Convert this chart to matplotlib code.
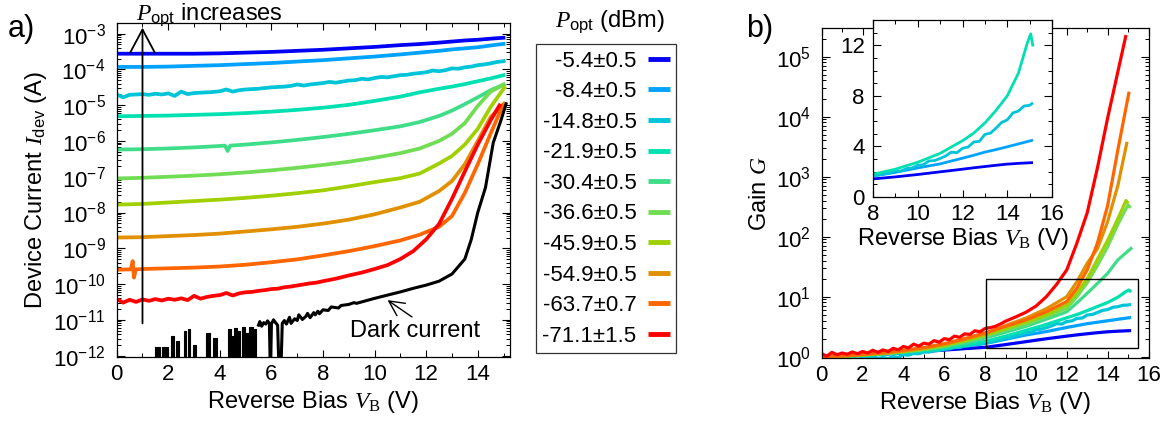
import numpy as np
import matplotlib
matplotlib.use("Agg")
import matplotlib.pyplot as plt
from matplotlib.ticker import MultipleLocator, LogLocator, NullFormatter, FixedLocator
from matplotlib.patches import Rectangle

# ---------------------------------------------------------------- data
LEGEND_LABELS = ["-5.4±0.5", "-8.4±0.5", "-14.8±0.5", "-21.9±0.5", "-30.4±0.5",
                 "-36.6±0.5", "-45.9±0.5", "-54.9±0.5", "-63.7±0.7", "-71.1±1.5"]
COLORS = ["#0000f5", "#00a2ff", "#00c4d8", "#00e0b0", "#40dd88",
          "#70dd55", "#a0d000", "#e09000", "#ff6600", "#ff0000"]

# (a) device current, log10(I / A) versus reverse bias (V)
V_A = [0, 1, 2, 3, 4, 5, 6, 7, 8, 9, 10, 11, 11.75, 12.5, 13, 13.5, 14, 14.5, 15.07]
LOGI_5P4 = [-3.56, -3.56, -3.56, -3.56, -3.55, -3.53, -3.51, -3.48, -3.45, -3.41,
            -3.37, -3.32, -3.29, -3.25, -3.22, -3.19, -3.17, -3.14, -3.11]
LOGI_8P4 = [-3.93, -3.93, -3.92, -3.90, -3.88, -3.85, -3.82, -3.78, -3.74, -3.69,
            -3.64, -3.58, -3.53, -3.48, -3.44, -3.41, -3.38, -3.33, -3.28]
V_A_14P8 = [0.00, 0.25, 0.50, 0.75, 1.00, 1.25, 1.50, 1.75, 2.00, 2.25, 2.50, 2.75,
            3.00, 3.25, 3.50, 3.75, 4.00, 4.25, 4.50, 4.75, 5.00, 5.25, 5.50, 5.75,
            6.00, 6.25, 6.50, 6.75, 7.00, 7.25, 7.50, 7.75, 8.00, 8.25, 8.50, 8.75,
            9.00, 9.25, 9.50, 9.75, 10.00, 10.25, 10.50, 10.75, 11.00, 11.25, 11.50,
            11.75, 12.00, 12.25, 12.50, 12.75, 13.00, 13.25, 13.50, 13.75, 14.00,
            14.25, 14.50, 14.75, 15.00, 15.07]
LOGI_14P8 = [-4.70, -4.78, -4.71, -4.70, -4.69, -4.71, -4.68, -4.70, -4.67, -4.74,
             -4.62, -4.69, -4.66, -4.65, -4.64, -4.63, -4.61, -4.56, -4.62, -4.58,
             -4.56, -4.55, -4.54, -4.52, -4.50, -4.49, -4.48, -4.46, -4.42, -4.45,
             -4.42, -4.40, -4.38, -4.35, -4.37, -4.34, -4.31, -4.30, -4.26, -4.28,
             -4.24, -4.21, -4.22, -4.19, -4.16, -4.15, -4.12, -4.10, -4.08, -4.03,
             -4.05, -4.02, -3.97, -3.98, -3.94, -3.92, -3.88, -3.86, -3.83, -3.79,
             -3.77, -3.75]
LOGI_21P9 = [-5.31, -5.30, -5.29, -5.27, -5.25, -5.22, -5.18, -5.13, -5.07, -4.99,
             -4.88, -4.76, -4.64, -4.54, -4.48, -4.41, -4.33, -4.25, -4.15]
V_A_30P4 = [0, 1, 2, 3, 4, 4.2, 4.3, 4.4, 5, 6, 7, 8, 9, 10, 11, 11.75, 12.5, 13,
            13.5, 14, 14.5, 15.07]
LOGI_30P4 = [-6.24, -6.23, -6.21, -6.18, -6.14, -6.13, -6.28, -6.13, -6.10, -6.04,
             -5.97, -5.89, -5.80, -5.70, -5.59, -5.47, -5.30, -5.15, -4.97, -4.78,
             -4.58, -4.40]
LOGI_36P6 = [-7.05, -7.03, -7.00, -6.97, -6.93, -6.88, -6.82, -6.75, -6.67, -6.58,
             -6.47, -6.34, -6.21, -6.00, -5.80, -5.50, -5.02, -4.62, -4.40]
LOGI_45P9 = [-7.78, -7.76, -7.72, -7.68, -7.64, -7.59, -7.53, -7.46, -7.38, -7.27,
             -7.15, -7.04, -6.91, -6.63, -6.42, -6.10, -5.66, -5.05, -4.47]
LOGI_54P9 = [-8.70, -8.69, -8.66, -8.63, -8.59, -8.53, -8.47, -8.40, -8.31, -8.20,
             -8.05, -7.86, -7.70, -7.40, -7.12, -6.65, -6.00, -5.33, -4.92]
V_A_63P7 = [0, 0.55, 0.62, 0.67, 0.74, 1, 2, 3, 4, 5, 6, 7, 8, 9, 10, 11, 11.75,
            12.5, 13, 13.5, 14, 14.5, 15.0]
LOGI_63P7 = [-9.60, -9.59, -9.36, -9.82, -9.59, -9.58, -9.56, -9.54, -9.51, -9.46,
             -9.39, -9.31, -9.20, -9.08, -8.94, -8.78, -8.62, -8.40, -8.10, -7.45,
             -6.65, -5.79, -4.96]
V_A_71P1 = [0.00, 0.25, 0.50, 0.75, 1.00, 1.25, 1.50, 1.75, 2.00, 2.25, 2.50, 2.75,
            3.00, 3.25, 3.50, 3.75, 4.00, 4.25, 4.50, 4.75, 5.00, 5.25, 5.50, 5.75,
            6.00, 6.25, 6.50, 6.75, 7.00, 7.25, 7.50, 7.75, 8.00, 8.5, 9, 9.5, 10,
            10.5, 11, 11.5, 12, 12.5, 13, 13.5, 14, 14.5, 14.88]
LOGI_71P1 = [-10.42, -10.52, -10.44, -10.50, -10.43, -10.47, -10.42, -10.46, -10.41,
             -10.44, -10.40, -10.45, -10.33, -10.41, -10.36, -10.33, -10.31, -10.25,
             -10.32, -10.26, -10.23, -10.22, -10.19, -10.17, -10.14, -10.13, -10.09,
             -10.07, -10.04, -10.01, -9.98, -9.96, -9.92, -9.85, -9.76, -9.68, -9.58,
             -9.47, -9.30, -9.08, -8.75, -8.32, -7.62, -6.85, -6.10, -5.42, -4.96]

# dark current: noise bursts near the instrument floor (start V, end V, log10 I)
DARK_BURST_START = [1.48, 1.74, 2.12, 2.28, 2.62, 2.76, 2.95, 3.48, 3.72, 4.30, 4.46,
                    4.56, 4.72, 4.84, 5.00, 5.14, 5.32]
DARK_BURST_END = [1.66, 1.99, 2.22, 2.42, 2.70, 2.86, 3.08, 3.60, 3.90, 4.42, 4.52,
                  4.68, 4.80, 4.96, 5.10, 5.28, 5.42]
DARK_BURST_LOGI = [-11.75, -11.75, -11.45, -11.58, -11.30, -11.27, -11.70, -11.38,
                   -11.50, -11.26, -11.45, -11.24, -11.32, -11.20, -11.38, -11.20, -11.26]
DARK_FLOOR_LOGI = -12.6
V_DARK = [5.50, 5.55, 5.62, 5.70, 5.78, 5.85, 5.92, 5.96, 6.00, 6.08, 6.16, 6.24, 6.30,
          6.36, 6.42, 6.50, 6.58, 6.70, 6.76, 6.90, 7.00, 7.06, 7.20, 7.34, 7.40, 7.50,
          7.64, 7.70, 7.80, 7.86, 8.00, 8.20, 8.32, 8.60, 8.70, 9.00, 9.20, 9.30, 9.60,
          10.0, 10.5, 11.0, 11.5, 12.0, 12.5, 13.0, 13.5, 13.75, 14.0, 14.3, 14.6,
          14.9, 15.1]
LOGI_DARK = [-11.15, -11.05, -11.18, -11.08, -11.12, -11.03, -11.10, -12.6, -11.12,
             -11.00, -11.08, -11.15, -12.6, -12.6, -11.10, -11.02, -11.12, -10.93,
             -11.10, -10.97, -11.02, -10.86, -10.99, -10.90, -10.82, -10.94, -10.80,
             -10.86, -10.76, -10.83, -10.72, -10.74, -10.64, -10.67, -10.60, -10.57,
             -10.52, -10.54, -10.48, -10.40, -10.31, -10.22, -10.12, -10.03, -9.92,
             -9.72, -9.30, -8.75, -8.00, -7.30, -6.05, -5.42, -4.96]

# (b) gain versus reverse bias
V_B = [0, 1, 2, 3, 4, 5, 6, 7, 8, 9, 10, 11, 12, 12.5, 13, 13.5, 14, 14.5, 15.15]
G_5P4 = [1.0, 1.02, 1.06, 1.10, 1.15, 1.22, 1.29, 1.36, 1.43, 1.59, 1.78, 1.99, 2.20,
         2.31, 2.41, 2.51, 2.60, 2.66, 2.72]
G_8P4 = [1.0, 1.02, 1.07, 1.13, 1.20, 1.30, 1.40, 1.52, 1.66, 1.95, 2.30, 2.62, 3.07,
         3.30, 3.55, 3.75, 3.97, 4.20, 4.50]
V_B_14P8 = V_A_14P8[:-1] + [15.15]
G_14P8 = [1.00, 1.03, 0.98, 1.02, 0.99, 1.04, 0.99, 1.03, 1.00, 0.96, 1.02, 0.94,
          0.97, 0.93, 1.01, 0.97, 1.08, 1.06, 1.13, 1.12, 1.20, 1.19, 1.26, 1.27,
          1.33, 1.35, 1.42, 1.43, 1.50, 1.52, 1.60, 1.61, 1.70, 1.74, 1.82, 1.88,
          2.08, 2.05, 2.25, 2.30, 2.52, 2.55, 2.85, 2.88, 3.05, 3.25, 3.55, 3.50,
          3.85, 3.95, 4.35, 4.40, 4.95, 5.05, 5.45, 5.90, 6.10, 6.65, 6.80, 7.20,
          7.25, 7.45]
V_B_21P9 = [0, 1, 2, 3, 4, 5, 6, 7, 8, 9, 10, 11, 12, 12.5, 13, 13.5, 14, 14.5, 14.9,
            15.05, 15.15]
G_21P9 = [1.0, 1.02, 1.05, 1.10, 1.16, 1.25, 1.36, 1.55, 1.80, 2.20, 2.75, 3.45, 4.45,
          5.05, 5.85, 6.85, 8.0, 9.8, 12.2, 12.9, 11.9]
V_B_30P4 = [0, 1, 2, 3, 4, 5, 6, 7, 8, 9, 10, 11, 12, 12.5, 13, 13.5, 14, 14.5, 15.2]
G_30P4 = [1.0, 1.02, 1.06, 1.12, 1.20, 1.30, 1.45, 1.68, 2.05, 2.55, 3.2, 4.2, 5.6,
          7.9, 11.4, 16.6, 24.5, 41, 66]
V_B_36P6 = [0, 1, 2, 3, 4, 5, 6, 7, 8, 9, 10, 11, 12, 12.5, 13, 13.5, 14, 14.5, 15.0,
            15.12]
G_36P6 = [1.0, 1.02, 1.06, 1.12, 1.20, 1.32, 1.50, 1.78, 2.2, 2.8, 3.5, 4.6, 6.4, 10,
          17, 33, 68, 160, 340, 300]
V_B_45P9 = [0, 1, 2, 3, 4, 5, 6, 7, 8, 9, 10, 11, 12, 12.5, 13, 13.5, 14, 14.5, 14.9,
            15.0]
G_45P9 = [1.0, 1.02, 1.07, 1.13, 1.22, 1.35, 1.55, 1.85, 2.3, 2.95, 3.8, 5.0, 7.3, 11.7,
          20, 42, 87, 200, 400, 360]
V_B_54P9 = [0, 1, 2, 3, 4, 5, 6, 7, 8, 9, 10, 11, 12, 12.5, 13, 13.5, 14, 14.5, 14.95]
G_54P9 = [1.0, 1.03, 1.08, 1.14, 1.24, 1.38, 1.60, 1.95, 2.4, 3.3, 4.4, 6.3, 10, 17.8,
          36, 63, 178, 710, 3800]
V_B_63P7 = [0, 1, 2, 3, 4, 5, 6, 7, 8, 9, 10, 11, 12, 12.5, 13, 13.5, 14, 14.5, 15.05]
G_63P7 = [1.0, 1.03, 1.09, 1.17, 1.28, 1.42, 1.65, 2.0, 2.5, 3.2, 4.1, 5.6, 8.3, 14,
          28, 78, 330, 2800, 26000]
V_B_71P1 = [0.00, 0.25, 0.50, 0.75, 1.00, 1.25, 1.50, 1.75, 2.00, 2.25, 2.50, 2.75,
            3.00, 3.25, 3.50, 3.75, 4.00, 4.25, 4.50, 4.75, 5.00, 5.25, 5.50, 5.75,
            6.00, 6.25, 6.50, 6.75, 7.00, 7.25, 7.50, 7.75, 8.00, 8.25, 8.50, 8.75,
            9.00, 9.5, 10, 10.5, 11, 11.5, 12, 12.5, 13, 13.5, 14, 14.5, 14.9]
G_71P1 = [1.12, 1.02, 1.18, 1.08, 1.15, 1.10, 1.20, 1.12, 1.22, 1.15, 1.28, 1.18, 1.30,
          1.22, 1.38, 1.30, 1.48, 1.40, 1.62, 1.50, 1.68, 1.62, 1.85, 1.75, 2.0, 1.92,
          2.2, 2.1, 2.4, 2.35, 2.7, 2.6, 2.95, 3.05, 3.2, 3.5, 3.9, 4.6, 5.5, 7.0, 10,
          16, 28, 79, 250, 1400, 9500, 56000, 229000]

DECADES_A = [1e-12, 1e-11, 1e-10, 1e-9, 1e-8, 1e-7, 1e-6, 1e-5, 1e-4, 1e-3]
DECADES_B = [1e0, 1e1, 1e2, 1e3, 1e4, 1e5]

# ---------------------------------------------------------------- style
plt.rcParams.update({
    "font.family": ["Liberation Sans", "DejaVu Sans"],
    "font.size": 16,
    "mathtext.fontset": "custom",
    "mathtext.rm": "Liberation Serif",
    "mathtext.it": "Liberation Serif:italic",
    "mathtext.sf": "Liberation Sans",
    "mathtext.bf": "Liberation Serif:bold",
    "axes.unicode_minus": False,
    "axes.linewidth": 0.9,
    "axes.labelsize": 17,
    "xtick.direction": "in",
    "ytick.direction": "in",
    "xtick.top": True,
    "ytick.right": True,
    "xtick.major.size": 5,
    "ytick.major.size": 5.5,
    "xtick.minor.size": 3,
    "ytick.minor.size": 3,
    "xtick.major.width": 0.8,
    "ytick.major.width": 0.8,
    "xtick.minor.width": 0.7,
    "ytick.minor.width": 0.7,
    "xtick.labelsize": 16,
    "ytick.labelsize": 16,
    "xtick.major.pad": 5,
    "ytick.major.pad": 8,
})

W, H = 1176, 428
fig = plt.figure(figsize=(W / 100, H / 100), dpi=100)


def box(x0, y0, x1, y1):
    """Axes rectangle from pixel edges (origin top-left)."""
    return [x0 / W, 1 - y1 / H, (x1 - x0) / W, (y1 - y0) / H]


def log_axis(ax, decades):
    ax.set_yscale("log")
    ax.yaxis.set_major_locator(FixedLocator(decades))
    ax.yaxis.set_minor_locator(LogLocator(base=10, subs=np.arange(2, 10), numticks=30))
    ax.yaxis.set_minor_formatter(NullFormatter())


VB_LABEL = r"Reverse Bias $V_{\mathrm{B}}$ (V)"
ARROW = dict(color="black", shrinkA=0, shrinkB=0)

# ---------------------------------------------------------------- panel a
ax_a = fig.add_axes(box(116.7, 23.3, 510, 357))
curves_a = [
    (V_A, LOGI_5P4), (V_A, LOGI_8P4), (V_A_14P8, LOGI_14P8), (V_A, LOGI_21P9),
    (V_A_30P4, LOGI_30P4), (V_A, LOGI_36P6), (V_A, LOGI_45P9), (V_A, LOGI_54P9),
    (V_A_63P7, LOGI_63P7), (V_A_71P1, LOGI_71P1),
]
handles = []
for (v, logi), col, lab in zip(curves_a, COLORS, LEGEND_LABELS):
    ln, = ax_a.plot(v, np.power(10.0, logi), color=col, lw=2.7, label=lab,
                    solid_capstyle="butt")
    handles.append(ln)

# dark current: floor-level bursts followed by the measured trace
floor = 10.0 ** DARK_FLOOR_LOGI
for s, e, lv in zip(DARK_BURST_START, DARK_BURST_END, DARK_BURST_LOGI):
    ax_a.fill_between([s, e], floor, 10.0 ** lv, color="black", lw=0.8,
                      edgecolor="black")
ax_a.plot(V_DARK, np.power(10.0, LOGI_DARK), color="black", lw=2.2)

ax_a.set_xlim(0, 15.25)
ax_a.set_ylim(10 ** -12.04, 10 ** -2.71)
log_axis(ax_a, DECADES_A)
ax_a.xaxis.set_major_locator(MultipleLocator(2))
ax_a.xaxis.set_minor_locator(MultipleLocator(1))
ax_a.set_xlabel(VB_LABEL, labelpad=3)
ax_a.set_ylabel(r"Device Current $I_{\mathsf{dev}}$ (A)", labelpad=3)

ax_a.annotate("", xy=(1.0, 10 ** -2.83), xytext=(1.0, 10 ** -11.1),
              arrowprops=dict(arrowstyle="->,head_length=0.75,head_width=0.4",
                              lw=1.3, mutation_scale=22, **ARROW))
fig.text(136 / W, 1 - 20 / H, r"$P_{\mathsf{opt}}$ increases", ha="left",
         va="baseline", fontsize=17)
ax_a.annotate("", xy=(10.5, 10 ** -10.45), xytext=(11.45, 10 ** -10.92),
              arrowprops=dict(arrowstyle="->,head_length=0.6,head_width=0.3",
                              lw=1.0, mutation_scale=18, **ARROW))
ax_a.text(9.05, 10 ** -11.48, "Dark current", ha="left", va="baseline", fontsize=17)

fig.text(8 / W, 1 - 37 / H, "a)", ha="left", va="baseline", fontsize=22)

# legend
fig.text(610 / W, 1 - 22 / H, r"$P_{\mathsf{opt}}$ (dBm)", ha="center", va="center",
         fontsize=17)
leg = fig.legend(handles=handles, loc="upper left",
                 bbox_to_anchor=(535.7 / W, 1 - 44 / H), borderaxespad=0,
                 markerfirst=False, frameon=True, fancybox=False, framealpha=1,
                 edgecolor="#333333", fontsize=16, handlelength=1.0,
                 handletextpad=0.5, labelspacing=0.43, borderpad=0.3)
leg.get_frame().set_linewidth(0.9)
for lh in leg.get_lines():
    lh.set_linewidth(3.5)

# ---------------------------------------------------------------- panel b
ax_b = fig.add_axes(box(821.7, 28.3, 1148.5, 358.3))
curves_b = [
    (V_B, G_5P4), (V_B, G_8P4), (V_B_14P8, G_14P8), (V_B_21P9, G_21P9),
    (V_B_30P4, G_30P4), (V_B_36P6, G_36P6), (V_B_45P9, G_45P9), (V_B_54P9, G_54P9),
    (V_B_63P7, G_63P7), (V_B_71P1, G_71P1),
]
for (v, g), col in zip(curves_b, COLORS):
    ax_b.plot(v, g, color=col, lw=2.3, solid_capstyle="butt")
ax_b.set_xlim(0, 16)
ax_b.set_ylim(0.94, 2.96e5)
log_axis(ax_b, DECADES_B)
ax_b.xaxis.set_major_locator(MultipleLocator(2))
ax_b.xaxis.set_minor_locator(MultipleLocator(1))
ax_b.set_xlabel(VB_LABEL, labelpad=3)
ax_b.set_ylabel(r"Gain $G$", labelpad=3)
ax_b.add_patch(Rectangle((8.04, 1.38), 15.5 - 8.04, 19.7 - 1.38, fill=False,
                         edgecolor="black", lw=1.0, zorder=5))
fig.text(746 / W, 1 - 37 / H, "b)", ha="left", va="baseline", fontsize=22)

# inset: linear zoom of the four highest-power traces
ax_in = fig.add_axes(box(873, 20, 1052, 197))
for (v, g), col in zip(curves_b[:4], COLORS[:4]):
    ax_in.plot(v, g, color=col, lw=2.0, solid_capstyle="butt")
ax_in.set_xlim(8, 16)
ax_in.set_ylim(0, 14)
ax_in.xaxis.set_major_locator(MultipleLocator(2))
ax_in.xaxis.set_minor_locator(MultipleLocator(1))
ax_in.yaxis.set_major_locator(MultipleLocator(4))
ax_in.yaxis.set_minor_locator(MultipleLocator(1))
ax_in.tick_params(axis="y", pad=6)
ax_in.set_xlabel(VB_LABEL, labelpad=1)

fig.savefig("out.png", dpi=100)
